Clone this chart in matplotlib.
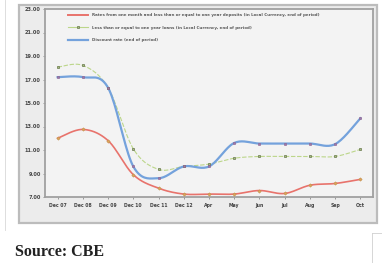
import numpy as np
import matplotlib
matplotlib.use("Agg")
import matplotlib.pyplot as plt
from matplotlib.patches import Rectangle
from matplotlib.lines import Line2D

categories = ["Dec 07", "Dec 08", "Dec 09", "Dec 10", "Dec 11", "Dec 12",
              "Apr", "May", "Jun", "Jul", "Aug", "Sep", "Oct"]
deposit_rate = [12.0, 12.75, 11.8, 8.9, 7.75, 7.25, 7.25, 7.25, 7.55, 7.3, 8.0, 8.15, 8.5]
loan_rate = [18.05, 18.2, 16.3, 11.1, 9.35, 9.6, 9.8, 10.3, 10.45, 10.45, 10.45, 10.45, 11.05]
discount_rate = [17.2, 17.2, 16.3, 9.6, 8.6, 9.6, 9.6, 11.6, 11.55, 11.55, 11.55, 11.5, 13.7]
yticks = [7, 9, 11, 13, 15, 17, 19, 21, 23]

labels = [
    "Rates from one month and less than or equal to one year deposits (in Local Currency, end of period)",
    "Less than or equal to one year loans (in Local Currency, end of period)",
    "Discount rate (end of period)",
]


def smooth(y, n=20):
    y = np.asarray(y, float)
    x = np.arange(len(y), dtype=float)
    xs, ys = [], []
    for i in range(len(y) - 1):
        p0 = (x[i - 1], y[i - 1]) if i > 0 else (x[i], y[i])
        p1 = (x[i], y[i])
        p2 = (x[i + 1], y[i + 1])
        p3 = (x[i + 2], y[i + 2]) if i + 2 < len(y) else (x[i + 1], y[i + 1])
        c1 = (p1[0] + (p2[0] - p0[0]) / 6, p1[1] + (p2[1] - p0[1]) / 6)
        c2 = (p2[0] - (p3[0] - p1[0]) / 6, p2[1] - (p3[1] - p1[1]) / 6)
        t = np.linspace(0, 1, n, endpoint=(i == len(y) - 2))
        for a, b in ((0, xs), (1, ys)):
            b.extend((1 - t) ** 3 * p1[a] + 3 * (1 - t) ** 2 * t * c1[a]
                     + 3 * (1 - t) * t ** 2 * c2[a] + t ** 3 * p2[a])
    return np.array(xs), np.array(ys)


W, H = 382, 263
fig = plt.figure(figsize=(W / 100, H / 100), dpi=100)
fig.patch.set_facecolor("white")

# outer chart panel
panel = Rectangle((19 / W, 1 - 223 / H), 358 / W, 218 / H,
                  transform=fig.transFigure, facecolor="#ececec",
                  edgecolor="#bcbcbc", linewidth=1.6, zorder=-5)
fig.add_artist(panel)
# faint page lines
fig.add_artist(Line2D([5 / W, 5 / W], [1 - 230 / H, 1.0], transform=fig.transFigure,
                      color="#d8d8d8", linewidth=0.6, zorder=-5))
fig.add_artist(Line2D([372 / W, 372 / W], [0, 1 - 233 / H], transform=fig.transFigure,
                      color="#d0d0d0", linewidth=0.6, zorder=-5))
fig.add_artist(Line2D([372 / W, 1.0], [1 - 233 / H, 1 - 233 / H], transform=fig.transFigure,
                      color="#d0d0d0", linewidth=0.6, zorder=-5))

ax = fig.add_axes([45 / W, 1 - 197 / H, (373 - 45) / W, (197 - 9) / H])
ax.set_zorder(1)
ax.set_facecolor("#f3f3f3")
x = np.arange(len(categories))

sx, sy = smooth(deposit_rate)
ax.plot(sx, sy, color="#e8736c", linewidth=1.2, zorder=3)
ax.plot(x, deposit_rate, linestyle="none", marker="D", markersize=1.7,
        markerfacecolor="#d9a85c", markeredgecolor="#c58d4a", markeredgewidth=0.4, zorder=4)

sx, sy = smooth(loan_rate)
ax.plot(sx, sy, color="#bcd68a", linewidth=0.8, linestyle=(0, (4, 1.5)), zorder=3)
ax.plot(x, loan_rate, linestyle="none", marker="s", markersize=1.9,
        markerfacecolor="#a9bb84", markeredgecolor="#66774a", markeredgewidth=0.5, zorder=4)

sx, sy = smooth(discount_rate)
ax.plot(sx, sy, color="#74a2dc", linewidth=1.6, zorder=3)
ax.plot(x, discount_rate, linestyle="none", marker="s", markersize=1.8,
        markerfacecolor="#a07aa6", markeredgecolor="#8a6090", markeredgewidth=0.4, zorder=4)

ax.set_xlim(-0.5, len(categories) - 0.5)
ax.set_ylim(7, 23)
ax.set_yticks(yticks)
ax.set_yticklabels([f"{v:.2f}" for v in yticks], fontsize=3.6, fontweight="bold", color="#444444")
ax.set_xticks(x)
ax.set_xticklabels(categories, fontsize=3.3, fontweight="bold", color="#444444")
ax.tick_params(axis="both", length=1.5, width=0.5, pad=1.5, color="#777777")
ax.tick_params(axis="x", pad=2.5)
for s in ax.spines.values():
    s.set_color("#a0a0a0")
    s.set_linewidth(1.3)

handles = [
    Line2D([], [], color="#e8736c", linewidth=1.4),
    Line2D([], [], color="#bcd68a", linewidth=0.8, marker="s", markersize=1.9,
           markerfacecolor="#a9bb84", markeredgecolor="#66774a", markeredgewidth=0.5),
    Line2D([], [], color="#74a2dc", linewidth=1.6),
]
leg = ax.legend(handles, labels, loc="upper left", bbox_to_anchor=(0.065, 0.985),
                frameon=False, fontsize=2.9, handlelength=5.0, handletextpad=1.0,
                labelspacing=2.1, borderaxespad=0)
for t in leg.get_texts():
    t.set_color("#5a5a5a")
    t.set_fontweight("bold")

fig.text(15 / W, 1 - 252 / H, "Source: CBE", fontsize=11.5, fontweight="bold",
         family=["Liberation Serif", "DejaVu Serif"], va="center", ha="left", color="#222222")

fig.savefig("out.png", dpi=100)
